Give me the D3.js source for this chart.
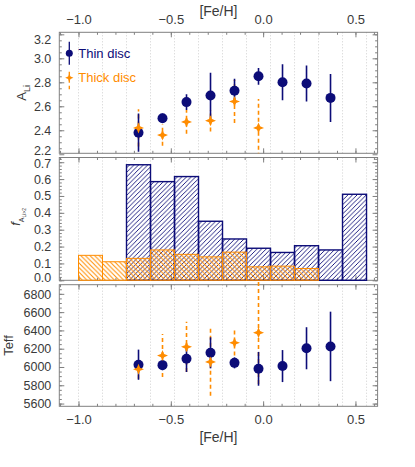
<!DOCTYPE html>
<html><head><meta charset="utf-8">
<script src="https://cdn.jsdelivr.net/npm/d3@7"></script>
<style>
html,body{margin:0;padding:0;background:#fff;}
svg{display:block;font-family:"Liberation Sans",Arial,sans-serif;}
</style></head>
<body>
<svg id="c" width="415" height="467"></svg>
<script>
// ---------- data ----------
const binEdges = [-1.0, -0.87, -0.74, -0.61, -0.48, -0.35, -0.22, -0.09, 0.04, 0.17, 0.30, 0.43, 0.56];
const thinFeH = [-0.675, -0.545, -0.415, -0.285, -0.155, -0.025, 0.105, 0.235, 0.365];
const thinALi = [2.38, 2.50, 2.635, 2.69, 2.73, 2.85, 2.80, 2.79, 2.67];
const thinALiErr = [0.16, 0.04, 0.065, 0.19, 0.10, 0.07, 0.15, 0.15, 0.20];
const thickFeH = [-0.675, -0.545, -0.415, -0.285, -0.155, -0.025];
const thickALi = [2.42, 2.36, 2.47, 2.48, 2.64, 2.42];
const thickALiErr = [0.155, 0.09, 0.10, 0.09, 0.18, 0.24];
const thinFrac = [0, 0, 0.685, 0.585, 0.615, 0.35, 0.245, 0.19, 0.165, 0.205, 0.18, 0.51];
const thickFrac = [0.148, 0.11, 0.13, 0.18, 0.154, 0.139, 0.167, 0.08, 0.084, 0.07, 0, 0];
const thinTeff = [6025, 6020, 6090, 6155, 6045, 5980, 6010, 6205, 6225];
const thinTeffErr = [165, 55, 145, 170, 60, 185, 175, 230, 380];
const thickTeff = [5975, 6125, 6220, 6055, 6265, 6375];
const thickTeffErr = [105, 235, 275, 370, 140, 560];
const xMajor = [-1.0, -0.5, 0.0, 0.5];
const legendLabels = ["Thin disc", "Thick disc"];

// ---------- style ----------
const NAVY = "#0c0c78", ORANGE = "#ff8c00", AXC = "#808080", TXT = "#3a3a3a";
const svg = d3.select("#c");
const defs = svg.append("defs");
const pb = defs.append("pattern").attr("id","hb").attr("patternUnits","userSpaceOnUse").attr("width",4.6).attr("height",4.6);
pb.append("path").attr("d","M-1,1 l2,-2 M0,4.6 l4.6,-4.6 M3.6,5.6 l2,-2").attr("stroke",NAVY).attr("stroke-width",0.9);
const po = defs.append("pattern").attr("id","ho").attr("patternUnits","userSpaceOnUse").attr("width",4.6).attr("height",4.6);
po.append("path").attr("d","M-1,3.6 l2,2 M0,0 l4.6,4.6 M3.6,-1 l2,2").attr("stroke",ORANGE).attr("stroke-width",1);

const x = d3.scaleLinear().domain([-1.104, 0.62]).range([59.3, 377.6]);
const fmt1 = d3.format(".1f");

const panels = {
  top: {y: d3.scaleLinear().domain([2.208, 3.217]).range([153.3, 32.3]), major: d3.range(2.2, 3.21, 0.2), minor: d3.range(2.25, 3.21, 0.05), fmt: fmt1, shiftLo: -4, shiftHi: 5},
  mid: {y: d3.scaleLinear().domain([0, 0.728]).range([280.3, 157.5]), major: d3.range(0, 0.71, 0.1), minor: d3.range(0, 0.73, 0.02), fmt: fmt1, shiftLo: -3, shiftHi: 1.5},
  bot: {y: d3.scaleLinear().domain([5570, 6900]).range([406.3, 284.7]), major: d3.range(5600, 6801, 200), minor: d3.range(5600, 6900, 50), fmt: d3.format("d"), shiftLo: 0, shiftHi: 1}
};
const xMinor = d3.range(-1.1, 0.62, 0.1);

function drawFrame(p, labelsTop, labelsBottom) {
  const [y0, y1] = p.y.range();
  const [x0, x1] = x.range();
  const g = svg.append("g");
  g.selectAll("line.grid").data(binEdges).join("line")
    .attr("x1", d => x(d)).attr("x2", d => x(d)).attr("y1", y1).attr("y2", y0)
    .attr("stroke", "#c4c4c4").attr("stroke-width", 0.8).attr("stroke-dasharray", "1,2");
  const axes = [
    [d3.axisBottom(x).tickValues(xMajor).tickSize(-5).tickFormat(labelsBottom ? fmt1 : ""), `translate(0,${y0})`],
    [d3.axisBottom(x).tickValues(xMinor).tickSize(-2.5).tickFormat(""), `translate(0,${y0})`],
    [d3.axisTop(x).tickValues(xMajor).tickSize(-5).tickFormat(labelsTop ? fmt1 : ""), `translate(0,${y1})`],
    [d3.axisTop(x).tickValues(xMinor).tickSize(-2.5).tickFormat(""), `translate(0,${y1})`],
    [d3.axisLeft(p.y).tickValues(p.major).tickSize(-5).tickFormat(p.fmt), `translate(${x0},0)`, true],
    [d3.axisLeft(p.y).tickValues(p.minor).tickSize(-2.5).tickFormat(""), `translate(${x0},0)`],
    [d3.axisRight(p.y).tickValues(p.major).tickSize(-5).tickFormat(""), `translate(${x1},0)`],
    [d3.axisRight(p.y).tickValues(p.minor).tickSize(-2.5).tickFormat(""), `translate(${x1},0)`]
  ];
  axes.forEach(([ax, tr, isY]) => {
    const a = g.append("g").attr("transform", tr).call(ax.tickSizeOuter(0).tickPadding(8));
    a.select(".domain").remove();
    a.selectAll("line").attr("stroke", AXC);
    a.selectAll("text").attr("fill", TXT).attr("font-size", isY ? 12.5 : 13).attr("font-family", "Liberation Sans, Arial, sans-serif");
    if (isY) {
      const txt = a.selectAll("text");
      const n = txt.size();
      txt.attr("transform", (d, i) => i === 0 ? `translate(0,${p.shiftLo})` : (i === n - 1 ? `translate(0,${p.shiftHi})` : null));
    }
  });
  g.append("rect").attr("x", x0).attr("y", y1).attr("width", x1 - x0).attr("height", y0 - y1)
    .attr("fill", "none").attr("stroke", AXC).attr("stroke-width", 1);
  return g;
}

const star = (cx, cy, s = 1) => {
  const r = 5.5 * s, w = 1.6 * s, p = d3.path();
  p.moveTo(cx, cy - r); p.lineTo(cx + w, cy - w); p.lineTo(cx + r, cy); p.lineTo(cx + w, cy + w);
  p.lineTo(cx, cy + r); p.lineTo(cx - w, cy + w); p.lineTo(cx - r, cy); p.lineTo(cx - w, cy - w); p.closePath();
  return p.toString();
};

function points(p, vals, errs, thickV, thickE, clip) {
  const g = svg.append("g");
  if (clip) {
    const [y0, y1] = p.y.range();
    defs.append("clipPath").attr("id", clip).append("rect")
      .attr("x", x.range()[0]).attr("y", y1).attr("width", x.range()[1] - x.range()[0]).attr("height", y0 - y1);
    g.attr("clip-path", `url(#${clip})`);
  }
  g.selectAll("line.te").data(thickV).join("line")
    .attr("x1", (d, i) => x(thickFeH[i])).attr("x2", (d, i) => x(thickFeH[i]))
    .attr("y1", (d, i) => p.y(d - thickE[i])).attr("y2", (d, i) => p.y(d + thickE[i]))
    .attr("stroke", ORANGE).attr("stroke-width", 1.6).attr("stroke-dasharray", "4,3");
  g.selectAll("line.ne").data(vals).join("line")
    .attr("x1", (d, i) => x(thinFeH[i])).attr("x2", (d, i) => x(thinFeH[i]))
    .attr("y1", (d, i) => p.y(d - errs[i])).attr("y2", (d, i) => p.y(d + errs[i]))
    .attr("stroke", NAVY).attr("stroke-width", 1.6);
  g.selectAll("circle").data(vals).join("circle")
    .attr("cx", (d, i) => x(thinFeH[i])).attr("cy", d => p.y(d)).attr("r", 5).attr("fill", NAVY);
  g.selectAll("path.st").data(thickV).join("path")
    .attr("d", (d, i) => star(x(thickFeH[i]), p.y(d))).attr("fill", ORANGE);
}

// ---------- top panel ----------
drawFrame(panels.top, true, false);
points(panels.top, thinALi, thinALiErr, thickALi, thickALiErr, "clipTop");

// legend
const lx = x.range()[0] + 10;
const ly1 = panels.top.y.range()[1] + 21, ly2 = panels.top.y.range()[1] + 45.5;
svg.append("line").attr("x1", lx).attr("x2", lx).attr("y1", ly1 - 11.5).attr("y2", ly1 + 11.5).attr("stroke", NAVY).attr("stroke-width", 1.3);
svg.append("circle").attr("cx", lx).attr("cy", ly1).attr("r", 3.5).attr("fill", NAVY);
svg.append("text").attr("x", lx + 9).attr("y", ly1 + 4.5).attr("fill", NAVY).attr("font-size", 13).text(legendLabels[0]);
svg.append("line").attr("x1", lx).attr("x2", lx).attr("y1", ly2 - 6).attr("y2", ly2 + 11.5).attr("stroke", ORANGE).attr("stroke-width", 1.3).attr("stroke-dasharray", "4,3");
svg.append("path").attr("d", star(lx, ly2, 0.75)).attr("fill", ORANGE);
svg.append("text").attr("x", lx + 9).attr("y", ly2 + 4.5).attr("fill", ORANGE).attr("font-size", 13).text(legendLabels[1]);

// ---------- middle panel (histograms) ----------
drawFrame(panels.mid, false, false);
const hm = svg.append("g");
const ym = panels.mid.y;
hm.selectAll("rect.thin").data(thinFrac).join("rect")
  .attr("x", (d, i) => x(binEdges[i])).attr("width", (d, i) => x(binEdges[i + 1]) - x(binEdges[i]))
  .attr("y", d => ym(d)).attr("height", d => ym(0) - ym(d))
  .attr("fill", "url(#hb)").attr("stroke", NAVY).attr("stroke-width", 1.4);
hm.selectAll("rect.thick").data(thickFrac).join("rect")
  .attr("x", (d, i) => x(binEdges[i])).attr("width", (d, i) => x(binEdges[i + 1]) - x(binEdges[i]))
  .attr("y", d => ym(d)).attr("height", d => ym(0) - ym(d))
  .attr("fill", "url(#ho)").attr("stroke", ORANGE).attr("stroke-width", 1);

// ---------- bottom panel ----------
drawFrame(panels.bot, false, true);
points(panels.bot, thinTeff, thinTeffErr, thickTeff, thickTeffErr, null);

// ---------- titles ----------
const xc = (x.range()[0] + x.range()[1]) / 2;
svg.append("text").attr("x", xc).attr("y", 16).attr("text-anchor", "middle").attr("font-size", 14).attr("fill", TXT).text("[Fe/H]");
svg.append("text").attr("x", xc).attr("y", 442).attr("text-anchor", "middle").attr("font-size", 14).attr("fill", TXT).text("[Fe/H]");

function yTitle(cx, cy, build) {
  const t = svg.append("text").attr("transform", `translate(${cx},${cy}) rotate(-90)`).attr("text-anchor", "middle").attr("fill", TXT).attr("font-size", 13);
  build(t);
}
const ct = panels.top.y.range(), cm = panels.mid.y.range(), cb = panels.bot.y.range();
yTitle(26, (ct[0] + ct[1]) / 2, t => { t.append("tspan").text("A"); t.append("tspan").attr("font-size", 9).attr("dy", 4).text("Li"); });
yTitle(20, (cm[0] + cm[1]) / 2 - 2, t => { t.append("tspan").attr("font-style", "italic").text("f"); t.append("tspan").attr("font-size", 7).attr("dy", 4).text("A"); t.append("tspan").attr("font-size", 5).attr("dy", 2).text("Li>2"); });
yTitle(13, (cb[0] + cb[1]) / 2, t => { t.text("Teff"); });
</script>
</body></html>
